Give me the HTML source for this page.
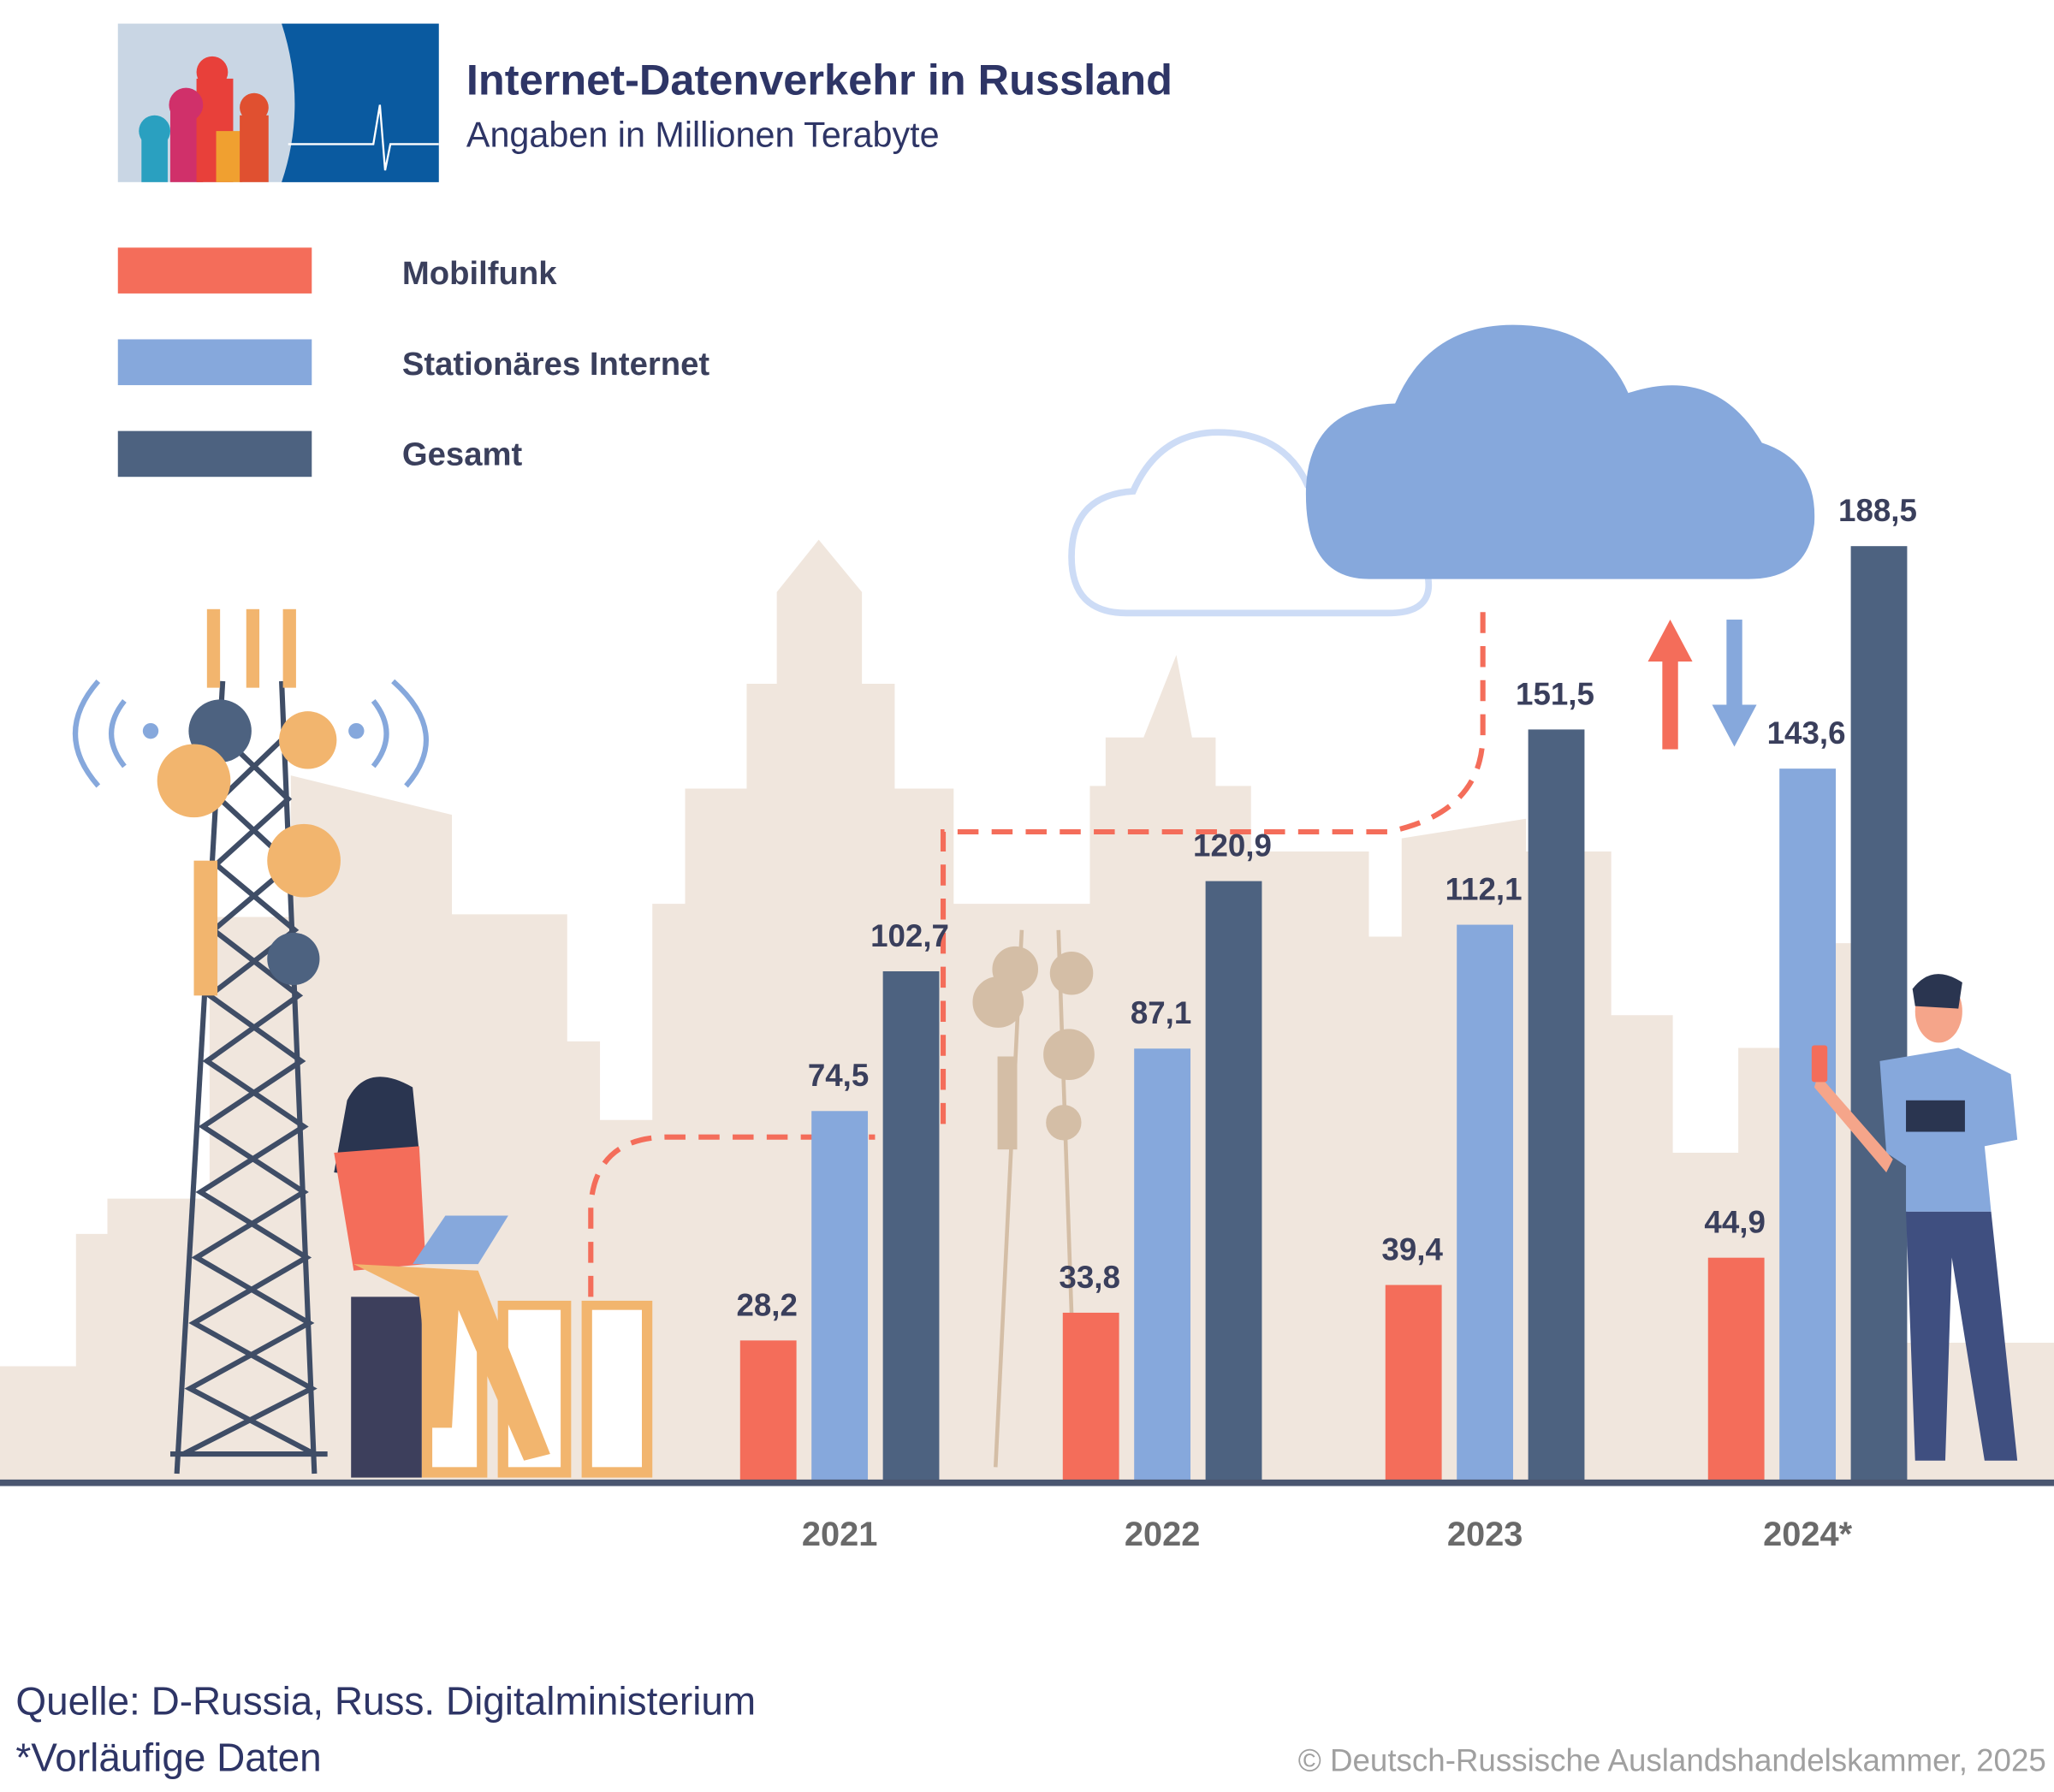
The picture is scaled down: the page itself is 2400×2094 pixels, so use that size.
<!DOCTYPE html>
<html><head><meta charset="utf-8"><style>
html,body{margin:0;padding:0;background:#fff}
svg{display:block}
text{font-family:"Liberation Sans",sans-serif}
</style></head><body>
<svg id="chart" width="2400" height="2094" viewBox="0 0 1568 1368" xmlns="http://www.w3.org/2000/svg">
<g fill="#f0e6dd">
<polygon points="0,1130 0,1043 58,1043 58,942 82,942 82,915 160,915 160,700 222,700 222,592 345,622 345,698 433,698 433,795 458,795 458,855 498,855 498,690 523,690 523,602 570,602 570,522 593,522 593,452 625,412 658,452 658,522 683,522 683,602 728,602 728,690 832,690 832,600 844,600 844,563 873,563 873,563 898,500 910,563 928,563 928,600 955,600 955,650 1045,650 1045,715 1070,715 1070,640 1165,625 1165,650 1230,650 1230,775 1277,775 1277,880 1327,880 1327,800 1390,800 1390,720 1420,720 1420,880 1455,880 1455,1025 1568,1025 1568,1130"/>
<polygon points="955,800 990,800 990,760 1020,760 1020,800 1045,800 1045,1130 955,1130"/>
</g>
<g>
<rect x="90" y="18" width="245" height="121" fill="#c9d6e4"/>
<path d="M215,18 L335,18 L335,139 L215,139 Q235,80 215,18Z" fill="#0a5aa0"/>
<polyline points="220,110 285,110 290,80 294,130 298,110 335,110" fill="none" stroke="#fff" stroke-width="1.5"/>
<rect x="108" y="100" width="20" height="39" fill="#2aa0c0"/>
<rect x="130" y="85" width="25" height="54" fill="#d0306a"/>
<rect x="150" y="60" width="28" height="79" fill="#e8403a"/>
<rect x="165" y="100" width="20" height="39" fill="#f0a030"/>
<rect x="183" y="88" width="22" height="51" fill="#e05030"/>
<circle cx="118" cy="100" r="12" fill="#2aa0c0"/><circle cx="142" cy="80" r="13" fill="#d0306a"/><circle cx="162" cy="55" r="12" fill="#e8403a"/><circle cx="194" cy="82" r="11" fill="#e05030"/>
</g>
<text x="356" y="72" font-size="33" font-weight="bold" fill="#2e3566">Internet-Datenverkehr in Russland</text>
<text x="356" y="112" font-size="27" fill="#2e3566">Angaben in Millionen Terabyte</text>
<g font-size="25" font-weight="bold" fill="#3a3f5c">
<rect x="90" y="189" width="148" height="35" fill="#f46d5a"/>
<text x="307" y="217">Mobilfunk</text>
<rect x="90" y="259" width="148" height="35" fill="#86a8dc"/>
<text x="307" y="286">Stationäres Internet</text>
<rect x="90" y="329" width="148" height="35" fill="#4d6280"/>
<text x="307" y="355">Gesamt</text>
</g>
<g fill="#fff" stroke="#cddcf6" stroke-width="5">
<path d="M860,468 Q818,468 818,425 Q818,378 865,375 Q885,330 930,330 Q980,330 998,370 Q1060,370 1090,440 Q1095,468 1060,468 Z"/>
</g>
<g fill="#86a8dc">
<path d="M1045,442 Q995,442 997,372 Q1000,310 1065,308 Q1090,248 1155,248 Q1220,248 1243,300 Q1310,278 1345,338 Q1388,352 1385,400 Q1380,442 1335,442 Z"/>
</g>
<g>
<rect x="1269" y="500" width="12" height="72" fill="#f46d5a"/><polygon points="1258,505 1275,473 1292,505" fill="#f46d5a"/>
<rect x="1318" y="473" width="12" height="70" fill="#86a8dc"/><polygon points="1307,538 1324,570 1341,538" fill="#86a8dc"/>
</g>
<path d="M451,990 L451,920 Q455,868 510,868 L668,868 M720,858 L720,635 L1060,635 Q1132,620 1132,560 L1132,462" fill="none" stroke="#f46d5a" stroke-width="4" stroke-dasharray="16,10"/>
<g stroke="#3f4d66" stroke-width="4" fill="none">
<line x1="170" y1="520" x2="135" y2="1125"/><line x1="215" y1="520" x2="240" y2="1125"/>
<path d="M168,560 L220,610 L165,660 L225,710 L160,760 L230,810 L155,860 L232,910 L150,960 L236,1010 L145,1060 L240,1110"/>
<path d="M220,560 L168,610 L222,660 L163,710 L228,760 L158,810 L232,860 L153,910 L234,960 L148,1010 L238,1060 L140,1110"/>
<line x1="130" y1="1110" x2="250" y2="1110"/>
<path d="M75,520 Q40,560 75,600 M95,535 Q75,560 95,585 M300,520 Q345,560 310,600 M285,535 Q305,560 285,585" stroke="#86a8dc"/>
</g>
<g>
<rect x="158" y="465" width="10" height="60" fill="#f2b56e"/><rect x="188" y="465" width="10" height="60" fill="#f2b56e"/><rect x="216" y="465" width="10" height="60" fill="#f2b56e"/>
<circle cx="168" cy="558" r="24" fill="#4d6280"/><circle cx="235" cy="565" r="22" fill="#f2b56e"/><circle cx="148" cy="596" r="28" fill="#f2b56e"/><circle cx="232" cy="657" r="28" fill="#f2b56e"/><circle cx="224" cy="732" r="20" fill="#4d6280"/>
<rect x="148" y="657" width="18" height="103" fill="#f2b56e"/>
<circle cx="115" cy="558" r="6" fill="#86a8dc"/><circle cx="272" cy="558" r="6" fill="#86a8dc"/>
</g>
<g fill="#d4bea6" stroke="#d4bea6" stroke-width="3">
<line x1="780" y1="710" x2="760" y2="1120"/><line x1="808" y1="710" x2="822" y2="1120"/>
<circle cx="775" cy="740" r="16"/><circle cx="818" cy="743" r="15"/><circle cx="762" cy="765" r="18"/><circle cx="816" cy="805" r="18"/><circle cx="812" cy="857" r="12"/>
<rect x="763" y="808" width="12" height="68"/>
</g>
<g>
<rect x="268" y="990" width="54" height="138" fill="#3d3f5c"/>
<rect x="322" y="993" width="50" height="135" fill="#f2b56e"/><rect x="330" y="1000" width="34" height="120" fill="#fff"/>
<rect x="380" y="993" width="56" height="135" fill="#f2b56e"/><rect x="388" y="1000" width="40" height="120" fill="#fff"/>
<rect x="444" y="993" width="54" height="135" fill="#f2b56e"/><rect x="452" y="1000" width="38" height="120" fill="#fff"/>
<path d="M265,840 Q280,810 315,830 L320,880 L300,900 L255,895 Z" fill="#2a3550"/>
<path d="M255,880 L320,875 L325,965 L270,970 Z" fill="#f46d5a"/>
<path d="M270,965 L365,970 L420,1110 L400,1115 L350,1000 L345,1090 L330,1090 L320,990 Z" fill="#f2b56e"/>
<polygon points="315,965 340,928 388,928 365,965" fill="#86a8dc"/>
</g>
<g id="bars"></g>
<g>
<path d="M1435,810 L1495,800 L1535,820 L1540,870 L1515,875 L1520,925 L1455,925 L1455,890 L1440,880 Z" fill="#86a8dc"/>
<rect x="1455" y="840" width="45" height="24" fill="#2a3550"/>
<path d="M1455,925 L1520,925 L1540,1115 L1515,1115 L1490,960 L1485,1115 L1462,1115 Z" fill="#3f4f80"/>
<ellipse cx="1480" cy="772" rx="18" ry="24" fill="#f5a58a"/>
<path d="M1460,755 Q1475,735 1498,750 L1495,770 L1462,768 Z" fill="#2a3550"/>
<path d="M1388,820 L1445,885 L1440,895 L1385,830 Z" fill="#f5a58a"/>
<rect x="1383" y="798" width="12" height="28" rx="2" fill="#f46d5a"/>
</g>
<line x1="0" y1="1132" x2="1568" y2="1132" stroke="#4a5670" stroke-width="5"/>
<g id="xlabels"></g>
<text x="12" y="1309" font-size="30" fill="#2e3566">Quelle: D-Russia, Russ. Digitalministerium</text>
<text x="12" y="1352" font-size="30" fill="#2e3566">*Vorläufige Daten</text>
<text x="1562" y="1352" font-size="24" fill="#a0a0a0" text-anchor="end">© Deutsch-Russische Auslandshandelskammer, 2025</text>
</svg>
<script>
const years = ["2021","2022","2023","2024*"];
const mobilfunk = [28.2, 33.8, 39.4, 44.9];
const stationaer = [74.5, 87.1, 112.1, 143.6];
const gesamt = [102.7, 120.9, 151.5, 188.5];
const seriesNames = ["mobilfunk","stationaer","gesamt"];
const seriesColors = ["#f46d5a","#86a8dc","#4d6280"];
const NS = "http://www.w3.org/2000/svg";
const baseY = 1130, pxPerUnit = 3.783;
function yScale(v){ return baseY - v * pxPerUnit; }
function xGroup(i){ return 565 + i * 246.3; }
const barW = 43, barStep = 54.5;
const bars = document.getElementById('bars');
const xl = document.getElementById('xlabels');
const allSeries = [mobilfunk, stationaer, gesamt];
years.forEach((yr, i) => {
  allSeries.forEach((s, k) => {
    const x = xGroup(i) + k * barStep;
    const r = document.createElementNS(NS, 'rect');
    r.setAttribute('x', x); r.setAttribute('y', yScale(s[i]));
    r.setAttribute('width', barW); r.setAttribute('height', baseY - yScale(s[i]));
    r.setAttribute('fill', seriesColors[k]);
    
    
    bars.appendChild(r);
    const t = document.createElementNS(NS, 'text');
    t.setAttribute('x', x + barW / 2 - 1); t.setAttribute('y', yScale(s[i]) - 19);
    t.setAttribute('text-anchor', 'middle'); t.setAttribute('font-size', '24');
    t.setAttribute('font-weight', 'bold'); t.setAttribute('fill', '#3a3f5c');
    t.textContent = s[i].toFixed(1).replace('.', ',');
    
    
    bars.appendChild(t);
  });
  const t = document.createElementNS(NS, 'text');
  t.setAttribute('x', xGroup(i) + barStep + barW / 2); t.setAttribute('y', 1180);
  t.setAttribute('text-anchor', 'middle'); t.setAttribute('font-size', '26');
  t.setAttribute('font-weight', 'bold'); t.setAttribute('fill', '#6a6a6a');
  t.textContent = yr;
  
  
  xl.appendChild(t);
});
</script>
</body></html>
